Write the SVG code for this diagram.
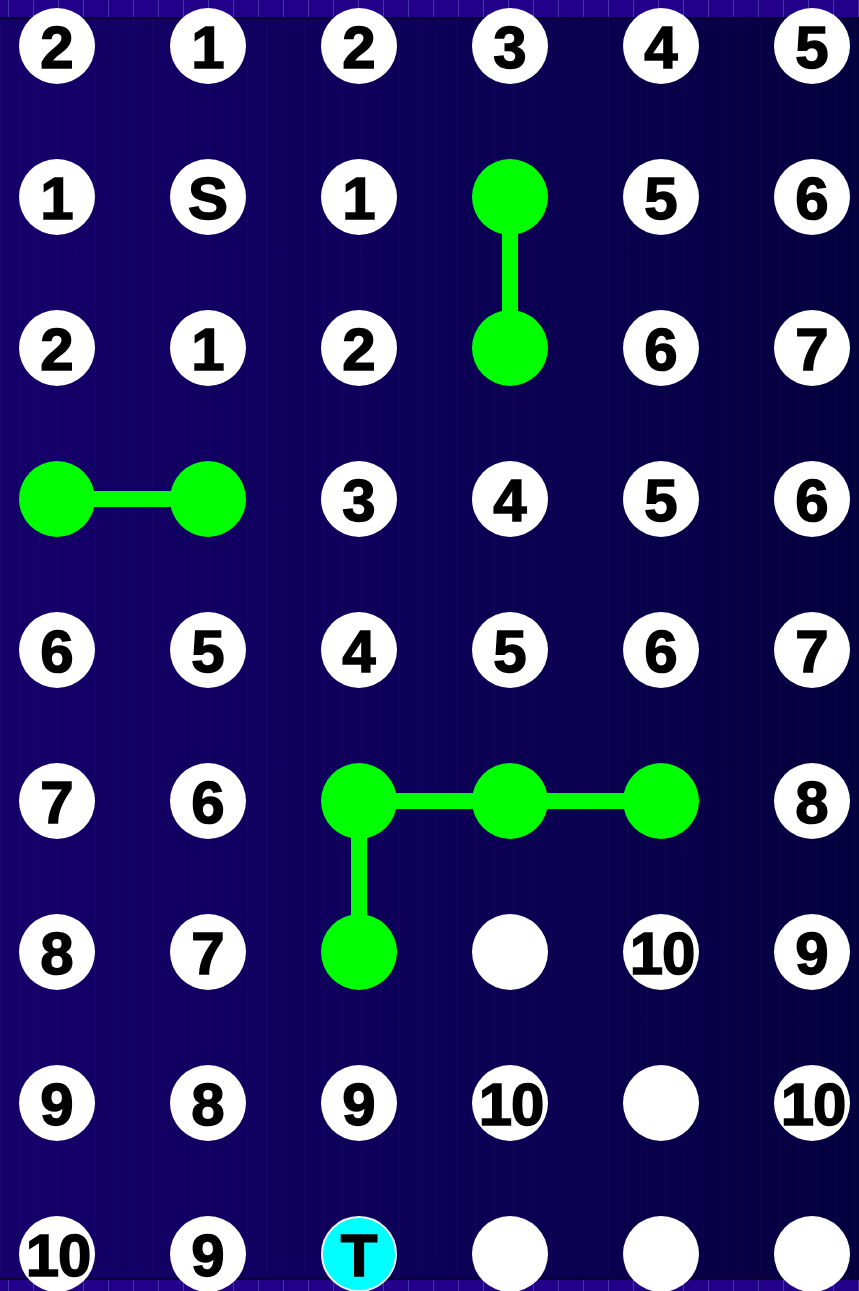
<svg xmlns="http://www.w3.org/2000/svg" width="859" height="1291" viewBox="0 0 859 1291">
<defs>
<linearGradient id="bg" x1="0" y1="0" x2="1" y2="0">
<stop offset="0" stop-color="#15006a"/>
<stop offset="0.5" stop-color="#0d0058"/>
<stop offset="1" stop-color="#05003e"/>
</linearGradient>
<pattern id="strip" x="8" y="0" width="25" height="20" patternUnits="userSpaceOnUse">
<rect width="25" height="20" fill="#22008a"/>
<rect x="0" width="1" height="20" fill="#4a33a6"/>
</pattern>
<pattern id="vl" x="0" y="0" width="19" height="10" patternUnits="userSpaceOnUse">
<rect x="0" width="1" height="10" fill="#ffffff" opacity="0.02"/>
</pattern>
</defs>
<style>
.n{fill:#ffffff}
.g{fill:#00ff00}
.t{fill:#00ffff;stroke:#f0f0f0;stroke-width:2}
.lb{font-family:"Liberation Sans",Arial,sans-serif;font-weight:bold;font-size:60px;fill:#000;stroke:#000;stroke-width:1.5;text-anchor:middle}
.ten{letter-spacing:-1px}
.c{stroke:#00ff00;stroke-width:16;fill:none}
</style>
<rect width="859" height="1291" fill="url(#bg)"/>
<rect width="859" height="1291" fill="url(#vl)"/>
<rect x="0" y="0" width="859" height="18" fill="url(#strip)"/>
<rect x="0" y="17" width="859" height="2" fill="#0a0030"/>
<rect x="0" y="1279" width="859" height="12" fill="url(#strip)"/>
<rect x="0" y="1278" width="859" height="2" fill="#0a0030"/>
<g id="connectors">
<line class="c" x1="510" y1="197" x2="510" y2="348"/>
<line class="c" x1="57" y1="499" x2="208" y2="499"/>
<line class="c" x1="359" y1="801" x2="661" y2="801"/>
<line class="c" x1="359" y1="801" x2="359" y2="952"/>
</g>
<g id="r0">
<g id="n0_0"><circle class="n" cx="57" cy="46" r="38"/><text class="lb" x="57" y="68">2</text></g>
<g id="n0_1"><circle class="n" cx="208" cy="46" r="38"/><text class="lb" x="208" y="68">1</text></g>
<g id="n0_2"><circle class="n" cx="359" cy="46" r="38"/><text class="lb" x="359" y="68">2</text></g>
<g id="n0_3"><circle class="n" cx="510" cy="46" r="38"/><text class="lb" x="510" y="68">3</text></g>
<g id="n0_4"><circle class="n" cx="661" cy="46" r="38"/><text class="lb" x="661" y="68">4</text></g>
<g id="n0_5"><circle class="n" cx="812" cy="46" r="38"/><text class="lb" x="812" y="68">5</text></g>
</g>
<g id="r1">
<g id="n1_0"><circle class="n" cx="57" cy="197" r="38"/><text class="lb" x="57" y="219">1</text></g>
<g id="n1_1"><circle class="n" cx="208" cy="197" r="38"/><text class="lb" x="208" y="219">S</text></g>
<g id="n1_2"><circle class="n" cx="359" cy="197" r="38"/><text class="lb" x="359" y="219">1</text></g>
<g id="n1_3"><circle class="g" cx="510" cy="197" r="38"/></g>
<g id="n1_4"><circle class="n" cx="661" cy="197" r="38"/><text class="lb" x="661" y="219">5</text></g>
<g id="n1_5"><circle class="n" cx="812" cy="197" r="38"/><text class="lb" x="812" y="219">6</text></g>
</g>
<g id="r2">
<g id="n2_0"><circle class="n" cx="57" cy="348" r="38"/><text class="lb" x="57" y="370">2</text></g>
<g id="n2_1"><circle class="n" cx="208" cy="348" r="38"/><text class="lb" x="208" y="370">1</text></g>
<g id="n2_2"><circle class="n" cx="359" cy="348" r="38"/><text class="lb" x="359" y="370">2</text></g>
<g id="n2_3"><circle class="g" cx="510" cy="348" r="38"/></g>
<g id="n2_4"><circle class="n" cx="661" cy="348" r="38"/><text class="lb" x="661" y="370">6</text></g>
<g id="n2_5"><circle class="n" cx="812" cy="348" r="38"/><text class="lb" x="812" y="370">7</text></g>
</g>
<g id="r3">
<g id="n3_0"><circle class="g" cx="57" cy="499" r="38"/></g>
<g id="n3_1"><circle class="g" cx="208" cy="499" r="38"/></g>
<g id="n3_2"><circle class="n" cx="359" cy="499" r="38"/><text class="lb" x="359" y="521">3</text></g>
<g id="n3_3"><circle class="n" cx="510" cy="499" r="38"/><text class="lb" x="510" y="521">4</text></g>
<g id="n3_4"><circle class="n" cx="661" cy="499" r="38"/><text class="lb" x="661" y="521">5</text></g>
<g id="n3_5"><circle class="n" cx="812" cy="499" r="38"/><text class="lb" x="812" y="521">6</text></g>
</g>
<g id="r4">
<g id="n4_0"><circle class="n" cx="57" cy="650" r="38"/><text class="lb" x="57" y="672">6</text></g>
<g id="n4_1"><circle class="n" cx="208" cy="650" r="38"/><text class="lb" x="208" y="672">5</text></g>
<g id="n4_2"><circle class="n" cx="359" cy="650" r="38"/><text class="lb" x="359" y="672">4</text></g>
<g id="n4_3"><circle class="n" cx="510" cy="650" r="38"/><text class="lb" x="510" y="672">5</text></g>
<g id="n4_4"><circle class="n" cx="661" cy="650" r="38"/><text class="lb" x="661" y="672">6</text></g>
<g id="n4_5"><circle class="n" cx="812" cy="650" r="38"/><text class="lb" x="812" y="672">7</text></g>
</g>
<g id="r5">
<g id="n5_0"><circle class="n" cx="57" cy="801" r="38"/><text class="lb" x="57" y="823">7</text></g>
<g id="n5_1"><circle class="n" cx="208" cy="801" r="38"/><text class="lb" x="208" y="823">6</text></g>
<g id="n5_2"><circle class="g" cx="359" cy="801" r="38"/></g>
<g id="n5_3"><circle class="g" cx="510" cy="801" r="38"/></g>
<g id="n5_4"><circle class="g" cx="661" cy="801" r="38"/></g>
<g id="n5_5"><circle class="n" cx="812" cy="801" r="38"/><text class="lb" x="812" y="823">8</text></g>
</g>
<g id="r6">
<g id="n6_0"><circle class="n" cx="57" cy="952" r="38"/><text class="lb" x="57" y="974">8</text></g>
<g id="n6_1"><circle class="n" cx="208" cy="952" r="38"/><text class="lb" x="208" y="974">7</text></g>
<g id="n6_2"><circle class="g" cx="359" cy="952" r="38"/></g>
<g id="n6_3"><circle class="n" cx="510" cy="952" r="38"/></g>
<g id="n6_4"><circle class="n" cx="661" cy="952" r="38"/><text class="lb ten" x="662" y="974">10</text></g>
<g id="n6_5"><circle class="n" cx="812" cy="952" r="38"/><text class="lb" x="812" y="974">9</text></g>
</g>
<g id="r7">
<g id="n7_0"><circle class="n" cx="57" cy="1103" r="38"/><text class="lb" x="57" y="1125">9</text></g>
<g id="n7_1"><circle class="n" cx="208" cy="1103" r="38"/><text class="lb" x="208" y="1125">8</text></g>
<g id="n7_2"><circle class="n" cx="359" cy="1103" r="38"/><text class="lb" x="359" y="1125">9</text></g>
<g id="n7_3"><circle class="n" cx="510" cy="1103" r="38"/><text class="lb ten" x="511" y="1125">10</text></g>
<g id="n7_4"><circle class="n" cx="661" cy="1103" r="38"/></g>
<g id="n7_5"><circle class="n" cx="812" cy="1103" r="38"/><text class="lb ten" x="813" y="1125">10</text></g>
</g>
<g id="r8">
<g id="n8_0"><circle class="n" cx="57" cy="1254" r="38"/><text class="lb ten" x="58" y="1276">10</text></g>
<g id="n8_1"><circle class="n" cx="208" cy="1254" r="38"/><text class="lb" x="208" y="1276">9</text></g>
<g id="n8_2"><circle class="t" cx="359" cy="1254" r="37"/><text class="lb" x="359" y="1276">T</text></g>
<g id="n8_3"><circle class="n" cx="510" cy="1254" r="38"/></g>
<g id="n8_4"><circle class="n" cx="661" cy="1254" r="38"/></g>
<g id="n8_5"><circle class="n" cx="812" cy="1254" r="38"/></g>
</g>
</svg>
